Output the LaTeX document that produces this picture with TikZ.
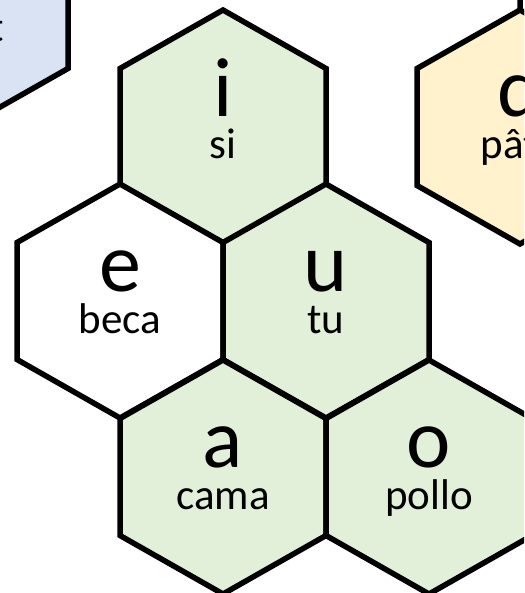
\documentclass[tikz,border=0pt]{standalone}
\usepackage{fontspec}
\setmainfont{Carlito}
\definecolor{hexgreen}{HTML}{E2F0D9}
\definecolor{hexblue}{HTML}{DAE3F3}
\definecolor{hexyellow}{HTML}{FFF2CC}
\tikzset{
  hexcell/.style={draw=black, line width=5.5pt, line join=miter},
  vowel/.style={font=\fontsize{84}{84}\selectfont, inner sep=0pt, anchor=base},
  word/.style={font=\fontsize{43}{43}\selectfont, inner sep=0pt, anchor=base},
}
\begin{document}
\begin{tikzpicture}[x=1pt,y=-1pt]
  % Parameters
  \def\hx{103}
  \def\hy{117}

  % Frame
  \useasboundingbox (0,0) rectangle (524,593);
  \clip (0,0) rectangle (524,593);

  % Hexagon cells
  \foreach \name/\cx/\cy/\col/\v/\w in {
      blue/-35/10/hexblue//beat,
      top/623/-48/white//,
      i/223/127/hexgreen/i/si,
      pa/520/127/hexyellow/ɑ/pâte,
      e/120/301/white/e/beca,
      u/326/301/hexgreen/u/tu,
      a/223/477/hexgreen/a/cama,
      o/429/477/hexgreen/o/pollo}{
    \draw[hexcell, fill=\col] (\cx,{\cy-\hy}) -- ({\cx+\hx},{\cy-\hy/2})
      -- ({\cx+\hx},{\cy+\hy/2}) -- (\cx,{\cy+\hy})
      -- ({\cx-\hx},{\cy+\hy/2}) -- ({\cx-\hx},{\cy-\hy/2}) -- cycle;
    \node[vowel] (\name-v) at (\cx,{\cy-10}) {\v};
    \node[word] (\name-w) at (\cx,{\cy+32}) {\w};
  }
\end{tikzpicture}
\end{document}
